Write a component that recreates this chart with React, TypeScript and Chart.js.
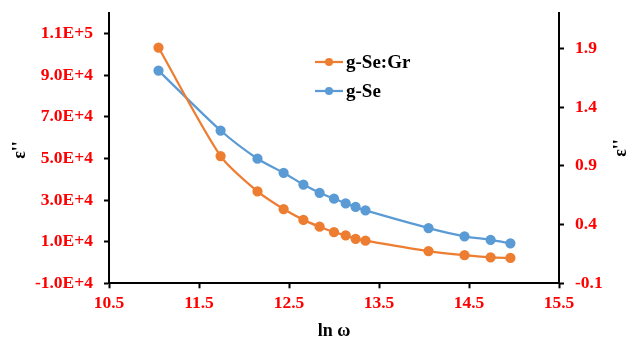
import React, { useEffect, useRef } from "react";
import { Chart, registerables } from "chart.js";

Chart.register(...registerables);

// ln ω values
const xValues = [11.05, 11.74, 12.15, 12.44, 12.66, 12.84, 13.0, 13.13, 13.24, 13.35, 14.05, 14.45, 14.74, 14.96];
// ε'' of g-Se:Gr (left axis)
const gSeGr = [103400, 51200, 34200, 25700, 20500, 17200, 14600, 13100, 11400, 10500, 5500, 3500, 2500, 2200];
// ε'' of g-Se (right axis)
const gSe = [1.71, 1.2, 0.96, 0.84, 0.74, 0.67, 0.62, 0.58, 0.55, 0.52, 0.37, 0.3, 0.27, 0.24];

const seriesLabels = ["g-Se:Gr", "g-Se"];
const seriesColors = ["#ED7D31", "#5B9BD5"];

const xTicks = [10.5, 11.5, 12.5, 13.5, 14.5, 15.5];
const leftTicks = [-10000, 10000, 30000, 50000, 70000, 90000, 110000];
const rightTicks = [-0.1, 0.4, 0.9, 1.4, 1.9];

const xTitle = "ln ω";
const yTitle = "ε''";

const FONT = '"Liberation Serif", "Times New Roman", serif';

export default function App() {
  const ref = useRef<HTMLCanvasElement | null>(null);

  useEffect(() => {
    if (!ref.current) return;
    const overlay = {
      id: "overlay",
      afterDraw(chart: any) {
        const ctx = chart.ctx;
        ctx.save();
        ctx.fillStyle = "#000";
        ctx.textAlign = "center";
        ctx.textBaseline = "middle";
        // y titles
        ctx.font = `bold 18px ${FONT}`;
        ctx.save();
        ctx.translate(20, 150);
        ctx.rotate(-Math.PI / 2);
        ctx.fillText(yTitle, 0, 0);
        ctx.restore();
        ctx.save();
        ctx.translate(621, 148);
        ctx.rotate(-Math.PI / 2);
        ctx.fillText(yTitle, 0, 0);
        ctx.restore();
        // x title
        ctx.font = `bold 18px ${FONT}`;
        ctx.fillText(xTitle, 334, 331);
        // legend
        const ys = [62, 91];
        seriesLabels.forEach((lab, i) => {
          const y = ys[i];
          ctx.strokeStyle = seriesColors[i];
          ctx.lineWidth = 2.25;
          ctx.beginPath();
          ctx.moveTo(315, y);
          ctx.lineTo(343, y);
          ctx.stroke();
          ctx.fillStyle = seriesColors[i];
          ctx.beginPath();
          ctx.arc(329, y, 4, 0, Math.PI * 2);
          ctx.fill();
          ctx.fillStyle = "#000";
          ctx.textAlign = "left";
          ctx.font = `bold 19px ${FONT}`;
          ctx.fillText(lab, 346, y + 1);
        });
        ctx.restore();
      },
    };

    const tickFont = { family: FONT, size: 17.5, weight: "bold" as const };
    const axisGrid = {
      display: true,
      drawOnChartArea: false,
      drawTicks: true,
      tickLength: 5,
      tickWidth: 2,
      tickColor: "#000",
      color: "#000",
    };

    const chart = new Chart(ref.current, {
      type: "scatter",
      data: {
        datasets: [
          {
            label: seriesLabels[0],
            data: xValues.map((x, i) => ({ x, y: gSeGr[i] })),
            yAxisID: "yL",
            showLine: true,
            borderColor: seriesColors[0],
            backgroundColor: seriesColors[0],
            borderWidth: 2.25,
            pointRadius: 4,
            pointHoverRadius: 4,
            tension: 0.25,
          },
          {
            label: seriesLabels[1],
            data: xValues.map((x, i) => ({ x, y: gSe[i] })),
            yAxisID: "yR",
            showLine: true,
            borderColor: seriesColors[1],
            backgroundColor: seriesColors[1],
            borderWidth: 2.25,
            pointRadius: 4,
            pointHoverRadius: 4,
            tension: 0.25,
          },
        ],
      },
      options: {
        responsive: false,
        animation: false,
        layout: { padding: { top: 13, left: 0, right: 0, bottom: 0 } },
        plugins: { legend: { display: false }, tooltip: { enabled: false } },
        scales: {
          x: {
            type: "linear",
            position: "bottom",
            min: 10.5,
            max: 15.5,
            afterBuildTicks: (s: any) => {
              s.ticks = xTicks.map((v) => ({ value: v }));
            },
            afterFit: (s: any) => {
              s.height = 58.7;
              s.paddingLeft = 0;
              s.paddingRight = 0;
            },
            ticks: {
              color: "#FF0000",
              font: tickFont,
              padding: 5,
              maxRotation: 0,
              autoSkip: false,
              callback: (v: any) => Number(v).toFixed(1),
            },
            grid: axisGrid,
            border: { display: true, color: "#000", width: 2 },
          },
          yL: {
            type: "linear",
            position: "left",
            min: -10000,
            max: 120000,
            afterBuildTicks: (s: any) => {
              s.ticks = leftTicks.map((v) => ({ value: v }));
            },
            afterFit: (s: any) => {
              s.width = 109;
              s.paddingTop = 0;
              s.paddingBottom = 0;
            },
            ticks: {
              color: "#FF0000",
              font: tickFont,
              padding: 11,
              autoSkip: false,
              callback: (v: any) => Number(v).toExponential(1).toUpperCase(),
            },
            grid: axisGrid,
            border: { display: true, color: "#000", width: 2 },
          },
          yR: {
            type: "linear",
            position: "right",
            min: -0.1,
            max: 2.2,
            afterBuildTicks: (s: any) => {
              s.ticks = rightTicks.map((v) => ({ value: v }));
            },
            afterFit: (s: any) => {
              s.width = 74;
              s.paddingTop = 0;
              s.paddingBottom = 0;
            },
            ticks: {
              color: "#FF0000",
              font: tickFont,
              padding: 11,
              autoSkip: false,
              callback: (v: any) => Number(v).toFixed(1),
            },
            grid: axisGrid,
            border: { display: true, color: "#000", width: 2 },
          },
        },
      },
      plugins: [overlay],
    });
    return () => chart.destroy();
  }, []);

  return (
    <div style={{ position: "fixed", left: 0, top: 0, width: 633, height: 342, background: "#fff" }}>
      <canvas ref={ref} width={633} height={342} />
    </div>
  );
}
